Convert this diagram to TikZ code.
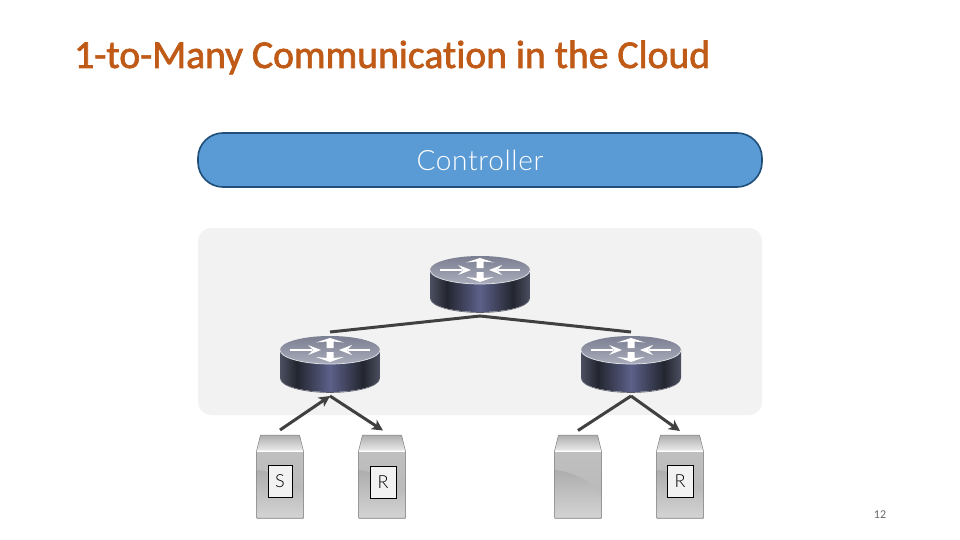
\documentclass[tikz,border=0pt]{standalone}
\usepackage{fontspec}
\setmainfont{Carlito}
\newfontfamily\titlefont[FakeBold=1.8,Ligatures=NoCommon]{Carlito}
\newfontfamily\lightfont{Lato Light}
\newfontfamily\ctrlfont[LetterSpace=2.5]{Lato Light}
\usetikzlibrary{arrows.meta}
\definecolor{titlec}{HTML}{C05A17}
\definecolor{ctrlfill}{HTML}{5B9BD5}
\definecolor{ctrldraw}{HTML}{1F4E79}
\definecolor{cloudbg}{HTML}{F2F2F2}
\definecolor{linkc}{HTML}{404040}
\definecolor{rtopa}{HTML}{7B7F92}
\definecolor{rtopb}{HTML}{A9ACBA}
\definecolor{redge}{HTML}{4C4F60}
\definecolor{rdark}{HTML}{23262F}
\definecolor{rmid}{HTML}{5C618A}
\tikzset{
  linkline/.style={line width=3pt,draw=linkc,miter limit=10},
  linkarrow/.style={linkline,-{Stealth[length=11pt,width=11pt,inset=3pt]}},
  labelbox/.style={draw=black,line width=0.8pt,fill=cloudbg,minimum height=32pt,inner sep=0pt,font=\lightfont\fontsize{18}{20}\selectfont\color{black}},
  routerpt/.style={inner sep=0pt,minimum size=0pt},
  pics/routerpic/.style={code={
    \begin{scope}
      \clip (-50,-14) -- (-50,14) arc[start angle=180,end angle=0,x radius=50,y radius=14] -- (50,-14) -- cycle;
      \shade[left color=redge,right color=rdark] (-50,-15) rectangle (-33,29);
      \shade[left color=rdark,right color=rmid] (-33.2,-15) rectangle (0,29);
      \shade[left color=rmid,right color=rdark] (-0.2,-15) rectangle (33,29);
      \shade[left color=rdark,right color=redge] (32.8,-15) rectangle (50,29);
    \end{scope}
    \draw[black!30!rtopa,line width=0.6pt] (-49,15) arc[start angle=180,end angle=0,x radius=49,y radius=13.5];
    \shade[top color=rtopa,bottom color=rtopb] (0,-14) ellipse[x radius=50,y radius=14];
    \draw[white!70!rtopb,line width=0.7pt] (-50,-14) arc[start angle=180,end angle=0,x radius=50,y radius=14];
    \draw[white,line width=1.8pt] (-40,-14) -- (-18,-14) (40,-14) -- (18,-14);
    \fill[white] (-9,-14) -- (-22,-19) -- (-17,-14) -- (-22,-9) -- cycle
                 (9,-14) -- (22,-19) -- (17,-14) -- (22,-9) -- cycle
                 (0,-26) -- (-14,-21.5) -- (-3.5,-22.5) -- (-3.5,-16) -- (3.5,-16) -- (3.5,-22.5) -- (14,-21.5) -- cycle
                 (0,-2) -- (-14,-7) -- (-3.5,-6) -- (-3.5,-12) -- (3.5,-12) -- (3.5,-6) -- (14,-7) -- cycle;
  }},
  pics/serverpic/.style={code={
    \shade[top color=black!32,bottom color=black!8] (-19.5,-41.5) -- (19.5,-41.5) -- (23.5,-25.8) -- (-23.5,-25.8) -- cycle;
    \shade[top color=black!25,bottom color=black!28] (-23.5,-25) rectangle (23.5,41.5);
    \shade[top color=black!32,bottom color=black!17] (-23.5,-6.5) .. controls (-5,-5) and (15,5) .. (23.5,18.5) -- (23.5,41.5) -- (-23.5,41.5) -- cycle;
    \fill[white] (-23.5,-25.8) rectangle (23.5,-24.8);
    \draw[black!50,line width=0.5pt,rounded corners=0.8pt] (-23.5,-25.3) -- (-19.5,-41.5) -- (19.5,-41.5) -- (23.5,-25.3) -- (23.5,41.5) -- (-23.5,41.5) -- cycle;
  }}
}
\begin{document}
\begin{tikzpicture}[x=1pt,y=-1pt]
\useasboundingbox (0,0) rectangle (960,540);
\fill[white] (0,0) rectangle (960,540);
\node[anchor=base west,inner sep=0pt,text=titlec,font=\titlefont\fontsize{39.6}{44}\selectfont] (title) at (74,68) {1-to-Many Communication in the Cloud};
\node[draw=ctrldraw,fill=ctrlfill,line width=1.6pt,rounded corners=25pt,minimum width=564pt,minimum height=54pt,inner sep=0pt,text=white,font=\ctrlfont\fontsize{28}{32}\selectfont] (controller) at (480,160) {Controller};
\node[fill=cloudbg,rounded corners=13pt,minimum width=564pt,minimum height=187pt,inner sep=0pt] (cloud) at (480,321.5) {};
\pic at (480,284) {routerpic};
\pic at (330,364) {routerpic};
\pic at (631,364) {routerpic};
\node[routerpt] (rtop) at (480,316) {};
\node[routerpt] (rleft) at (330,332) {};
\node[routerpt] (rright) at (631,332) {};
\node[routerpt] (rleftb) at (330,396) {};
\node[routerpt] (rrightb) at (631,396) {};
\pic at (280,476.5) {serverpic};
\pic at (382,476.5) {serverpic};
\pic at (578,476.5) {serverpic};
\pic at (680,476.5) {serverpic};
\node[routerpt] (s1) at (280,430) {};
\node[routerpt] (s2) at (383,430.5) {};
\node[routerpt] (s3) at (578,430.5) {};
\node[routerpt] (s4) at (680,431) {};
\node[labelbox,minimum width=24pt] (ls) at (280,481) {S};
\node[labelbox,minimum width=26pt] (lr1) at (383,482) {R};
\node[labelbox,minimum width=26pt] (lr2) at (680,481) {R};
\draw[linkline] (rleft.center) -- (rtop.center) -- (rright.center);
\draw[linkarrow] (s1.center) -- (rleftb.center);
\draw[linkarrow] (rleftb.center) -- (s2.center);
\draw[linkline] (s3.center) -- (rrightb.center);
\draw[linkarrow] (rrightb.center) -- (s4.center);
\node[text=black!60,font=\fontsize{12}{14}\selectfont] (page) at (880,515) {12};
\end{tikzpicture}
\end{document}
